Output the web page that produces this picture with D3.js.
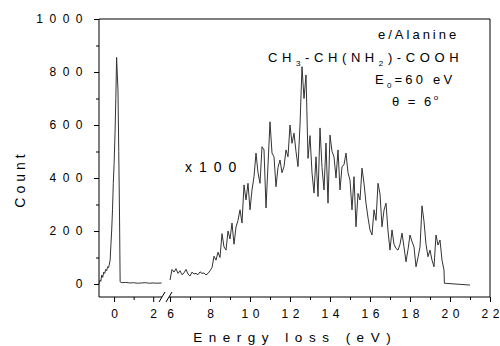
<!DOCTYPE html>
<html>
<head>
<meta charset="utf-8">
<script src="https://cdn.jsdelivr.net/npm/d3@7"></script>
<style>
  body { margin: 0; background: #fff; }
  svg { display: block; font-family: "Liberation Sans", Arial, sans-serif; }
</style>
</head>
<body>
<svg id="chart"></svg>
<script>
// elastic peak, left of the axis break
var peakEnergy = [-0.77, -0.72, -0.68, -0.63, -0.58, -0.53, -0.48, -0.43, -0.38, -0.33, -0.28, -0.24,
  -0.2, -0.16, -0.12, -0.08, -0.04, 0.0, 0.05, 0.09, 0.13, 0.16, 0.2, 0.24, 0.28, 0.31,
  0.4, 0.6, 0.8, 1.0, 1.2, 1.4, 1.6, 1.8, 2.0, 2.2, 2.43];
var peakCount = [0, 15, 10, 34, 25, 45, 40, 55, 50, 65, 62, 75,
  90, 150, 204, 280, 380, 450, 569, 700, 855, 800, 732, 500, 253, 8,
  5, 6, 4, 5, 3, 4, 5, 3, 4, 3, 4];

// loss spectrum (x100), right of the break
var lossEnergy = [6.0, 6.1, 6.2, 6.3, 6.4, 6.5, 6.6, 6.7, 6.8, 6.9,
  7.0, 7.1, 7.2, 7.3, 7.4, 7.5, 7.6, 7.7, 7.8, 7.9,
  8.0, 8.1, 8.2, 8.3, 8.4, 8.5, 8.6, 8.7, 8.8, 8.9,
  9.0, 9.1, 9.2, 9.3, 9.4, 9.5, 9.6, 9.7, 9.8, 9.9,
  10.0, 10.1, 10.2, 10.3, 10.4, 10.5, 10.6, 10.7, 10.8, 10.9,
  11.0, 11.1, 11.2, 11.3, 11.4, 11.5, 11.6, 11.7, 11.8, 11.9,
  12.0, 12.1, 12.2, 12.3, 12.4, 12.5, 12.6, 12.7, 12.8, 12.9,
  13.0, 13.1, 13.2, 13.3, 13.4, 13.5, 13.6, 13.7, 13.8, 13.9,
  14.0, 14.1, 14.2, 14.3, 14.4, 14.5, 14.6, 14.7, 14.8, 14.9,
  15.0, 15.1, 15.2, 15.3, 15.4, 15.5, 15.6, 15.7, 15.8, 15.9,
  16.0, 16.1, 16.2, 16.3, 16.4, 16.5, 16.6, 16.7, 16.8, 16.9,
  17.0, 17.1, 17.2, 17.3, 17.4, 17.5, 17.6, 17.7, 17.8, 17.9,
  18.0, 18.1, 18.2, 18.3, 18.4, 18.5, 18.6, 18.7, 18.8, 18.9,
  19.0, 19.1, 19.2, 19.3, 19.4, 19.5, 19.6, 19.7, 19.72, 21.0];
var lossCount = [15, 55, 45, 58, 40, 50, 35, 42, 55, 38,
  30, 45, 38, 40, 35, 46, 40, 42, 34, 40,
  50, 62, 105, 90, 120, 100, 190, 140, 128, 200,
  170, 230, 150, 215, 240, 280, 230, 374, 317, 380,
  280, 355, 405, 494, 420, 380, 518, 506, 287, 450,
  612, 494, 480, 367, 440, 468, 420, 443, 506, 480,
  600, 531, 569, 500, 443, 600, 820, 700, 789, 474,
  560, 420, 343, 480, 330, 589, 440, 355, 532, 305,
  562, 500, 480, 400, 506, 355, 443, 450, 494, 420,
  392, 280, 405, 216, 342, 317, 437, 380, 305, 250,
  204, 185, 280, 240, 380, 340, 216, 279, 305, 200,
  128, 204, 150, 134, 128, 150, 192, 140, 84, 130,
  185, 160, 140, 65, 100, 140, 295, 236, 150, 103,
  128, 90, 65, 185, 147, 166, 90, 53, 3, -4];

var leftTicks = [0, 2];
var leftMinor = [1];
var rightTicks = [6, 8, 10, 12, 14, 16, 18, 20, 22];
var rightMinor = [7, 9, 11, 13, 15, 17, 19, 21];
var yTicks = [0, 200, 400, 600, 800, 1000];
var yMinor = [100, 300, 500, 700, 900];

var svgWidth = 500, svgHeight = 346;
var plotLeft = 99, plotRight = 490, plotTop = 19, plotBottom = 297;
var breakAt = 162, resumeAt = 169;

var svg = d3.select("#chart")
    .attr("width", svgWidth)
    .attr("height", svgHeight);

var xLeft = d3.scaleLinear().domain([-0.77, 2.45]).range([plotLeft, breakAt]);
var xRight = d3.scaleLinear().domain([5.6, 22]).range([breakAt, plotRight]);
var y = d3.scaleLinear().domain([-49, 1000]).range([plotBottom, plotTop]);

var tickLs = 4.5;

function styleAxis(g) {
  g.select(".domain").remove();
  g.selectAll(".tick line").attr("stroke", "#000");
  g.selectAll(".tick text")
      .attr("fill", "#000")
      .attr("font-size", 12)
      .attr("letter-spacing", tickLs);
}

// x axes (two segments)
svg.append("g").attr("class", "xaxis").attr("transform", "translate(0," + plotBottom + ")")
    .call(d3.axisBottom(xLeft).tickValues(leftTicks).tickSize(5).tickPadding(7.5).tickFormat(d3.format("d")))
    .call(styleAxis);
svg.append("g").attr("class", "xaxis").attr("transform", "translate(0," + plotBottom + ")")
    .call(d3.axisBottom(xRight).tickValues(rightTicks).tickSize(5).tickPadding(7.5).tickFormat(d3.format("d")))
    .call(styleAxis);
svg.selectAll(".xaxis .tick text").attr("dx", tickLs / 2);

svg.append("g").attr("transform", "translate(0," + plotBottom + ")")
    .call(d3.axisBottom(xLeft).tickValues(leftMinor).tickSize(3).tickFormat(""))
    .call(styleAxis);
svg.append("g").attr("transform", "translate(0," + plotBottom + ")")
    .call(d3.axisBottom(xRight).tickValues(rightMinor).tickSize(3).tickFormat(""))
    .call(styleAxis);

// y axis
svg.append("g").attr("class", "yaxis").attr("transform", "translate(" + plotLeft + ",0)")
    .call(d3.axisLeft(y).tickValues(yTicks).tickSize(5).tickFormat(d3.format("d")))
    .call(styleAxis);
svg.selectAll(".yaxis .tick text")
    .attr("x", -10)
    .attr("letter-spacing", 6.5);
svg.append("g").attr("transform", "translate(" + plotLeft + ",0)")
    .call(d3.axisLeft(y).tickValues(yMinor).tickSize(3).tickFormat(""))
    .call(styleAxis);

// frame
var frame = svg.append("g").attr("stroke", "#000").attr("stroke-width", 1).attr("fill", "none");
frame.append("path").attr("d", "M" + plotLeft + "," + plotBottom + "V" + plotTop + "H" + plotRight + "V" + plotBottom);
frame.append("line").attr("x1", plotLeft).attr("x2", breakAt).attr("y1", plotBottom).attr("y2", plotBottom);
frame.append("line").attr("x1", resumeAt).attr("x2", plotRight).attr("y1", plotBottom).attr("y2", plotBottom);
[breakAt, resumeAt].forEach(function(bx) {
  frame.append("line")
      .attr("x1", bx - 3).attr("y1", plotBottom + 5)
      .attr("x2", bx + 3).attr("y2", plotBottom - 5);
});

// spectrum
var lineLeft = d3.line()
    .x(function(d, i) { return xLeft(peakEnergy[i]); })
    .y(function(d) { return y(d); });
var lineRight = d3.line()
    .x(function(d, i) { return xRight(lossEnergy[i]); })
    .y(function(d) { return y(d); });

svg.append("path")
    .datum(peakCount)
    .attr("fill", "none")
    .attr("stroke", "#333")
    .attr("stroke-width", 1)
    .attr("stroke-linejoin", "round")
    .attr("d", lineLeft);
svg.append("path")
    .datum(lossCount)
    .attr("fill", "none")
    .attr("stroke", "#333")
    .attr("stroke-width", 1)
    .attr("stroke-linejoin", "round")
    .attr("d", lineRight);

// axis titles
svg.append("text")
    .attr("x", 292 + 3.25).attr("y", 342)
    .attr("text-anchor", "middle")
    .attr("font-size", 13.5)
    .attr("letter-spacing", 6.5)
    .text("Energy loss (eV)");
svg.append("text")
    .attr("transform", "translate(25,181) rotate(-90)")
    .attr("text-anchor", "middle")
    .attr("dx", 2)
    .attr("font-size", 14)
    .attr("letter-spacing", 4)
    .text("Count");

// annotations
var ann = svg.append("g").attr("font-size", 13).attr("fill", "#000");
ann.append("text").attr("x", 378).attr("y", 39).attr("letter-spacing", 3).text("e/Alanine");

var formula = ann.append("text").attr("x", 268).attr("y", 62).attr("letter-spacing", 4.6);
formula.append("tspan").text("CH");
formula.append("tspan").attr("font-size", 8).attr("dy", 4).text("3");
formula.append("tspan").attr("dy", -4).text("-CH(NH");
formula.append("tspan").attr("font-size", 8).attr("dy", 4).text("2");
formula.append("tspan").attr("dy", -4).text(")-COOH");

var energy = ann.append("text").attr("x", 375).attr("y", 84).attr("letter-spacing", 3.2);
energy.append("tspan").text("E");
energy.append("tspan").attr("font-size", 8).attr("dy", 4).text("0");
energy.append("tspan").attr("dy", -4).text("=60 eV");

var angle = ann.append("text").attr("x", 392).attr("y", 106).attr("letter-spacing", 2.5);
angle.append("tspan").text("\u03b8 = 6");
angle.append("tspan").attr("font-size", 8).attr("dy", -6).text("o");

ann.append("text").attr("x", 185).attr("y", 172)
    .attr("font-size", 14).attr("letter-spacing", 7).text("x100");
</script>
</body>
</html>
